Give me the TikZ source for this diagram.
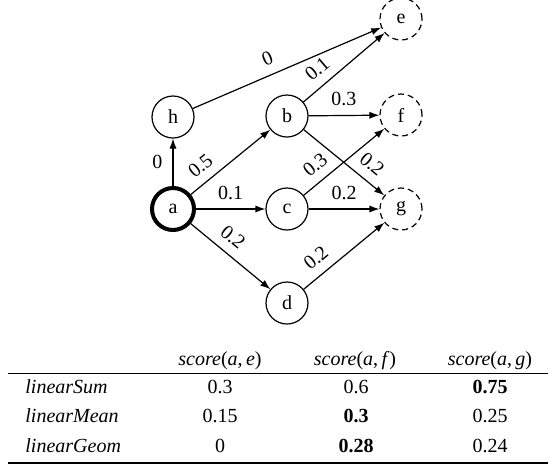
\documentclass[tikz,border=0pt]{standalone}
\usepackage{fontspec}
\setmainfont{Liberation Serif}
\usetikzlibrary{arrows.meta}
\tikzset{
    vtx/.style={draw, circle, semithick, minimum size=21pt, inner sep=0pt},
    startvtx/.style={vtx, line width=2pt},
    goalvtx/.style={vtx, dash pattern=on 3pt off 2pt},
    wedge/.style={semithick, -{Latex[length=5pt,width=3.6pt]}},
    wlabel/.style={sloped, above=2.5pt, inner sep=2pt},
    cellbox/.style={inner sep=0pt, anchor=base}
}
\begin{document}
\begin{tikzpicture}[x=0.5pt, y=-0.5pt]
    \useasboundingbox (0,0) rectangle (552,467);
    % graph
    \node[startvtx] (a) at (173,209) {a};
    \node[vtx] (h) at (173,117) {h};
    \node[vtx] (b) at (287,116) {b};
    \node[vtx] (c) at (287,209) {c};
    \node[vtx] (d) at (287,303) {d};
    \node[goalvtx] (e) at (401,19) {e};
    \node[goalvtx] (f) at (401,115) {f};
    \node[goalvtx] (g) at (401,209) {g};
    \draw[wedge] (a) -- node[left=3pt, inner sep=2pt] {0} (h);
    \draw[wedge] (a) -- node[wlabel, pos=0.25] {0.5} (b);
    \draw[wedge] (a) -- node[wlabel, pos=0.5] {0.1} (c);
    \draw[wedge] (a) -- node[wlabel, pos=0.4] {0.2} (d);
    \draw[wedge] (h) -- node[wlabel, pos=0.43] {0} (e);
    \draw[wedge] (b) -- node[wlabel, pos=0.3] {0.1} (e);
    \draw[wedge] (b) -- node[wlabel, pos=0.5] {0.3} (f);
    \draw[wedge] (b) -- node[wlabel, pos=0.72] {0.2} (g);
    \draw[wedge] (c) -- node[wlabel, pos=0.27] {0.3} (f);
    \draw[wedge] (c) -- node[wlabel, pos=0.5] {0.2} (g);
    \draw[wedge] (d) -- node[wlabel, pos=0.28] {0.2} (g);
    % table
    \node[cellbox] (hd1) at (220,365) {\textit{score}(\textit{a},\,\textit{e})};
    \node[cellbox] (hd2) at (355,365) {\textit{score}(\textit{a},\,\textit{f})};
    \node[cellbox] (hd3) at (490,365) {\textit{score}(\textit{a},\,\textit{g})};
    \draw[line width=0.5pt] (8,373) -- (548,373);
    \foreach \nm/\yy/\u/\v/\w [count=\i] in {
        linearSum/393/0.3/0.6/\textbf{0.75},
        linearMean/422/0.15/\textbf{0.3}/0.25,
        linearGeom/452/0/\textbf{0.28}/0.24}{
        \node[cellbox, anchor=base west] (row\i) at (25,\yy) {\textit{\nm}};
        \node[cellbox] (row\i-1) at (220,\yy) {\u};
        \node[cellbox] (row\i-2) at (356,\yy) {\v};
        \node[cellbox] (row\i-3) at (490,\yy) {\w};
    }
    \draw[line width=0.9pt] (8,463) -- (548,463);
\end{tikzpicture}
\end{document}
